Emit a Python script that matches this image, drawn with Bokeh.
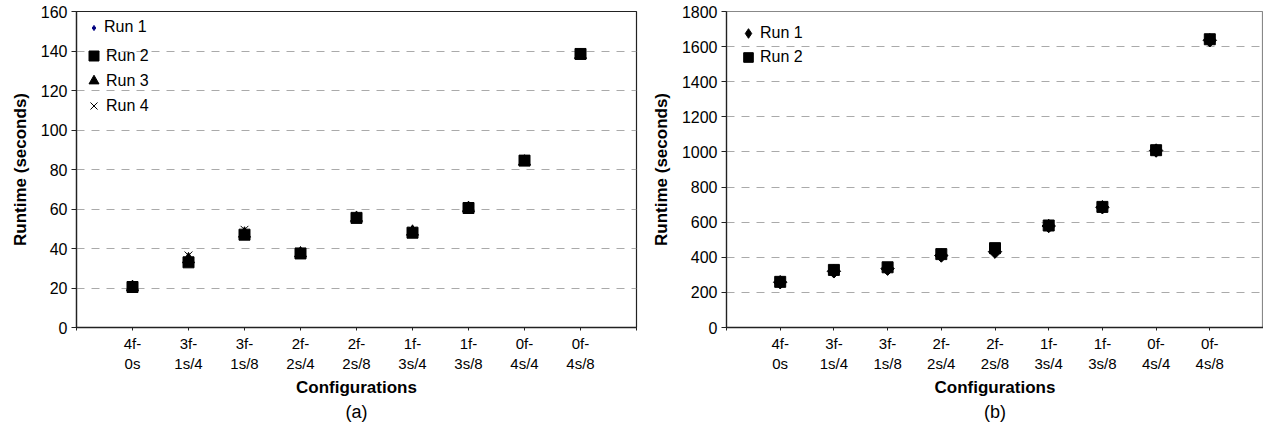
import math
from bokeh.plotting import figure
from bokeh.layouts import row
from bokeh.models import Range1d, FixedTicker, Legend, LegendItem, Title
from bokeh.embed import file_html
from bokeh.resources import INLINE

# ---- data ----
configs = ["4f-\n0s", "3f-\n1s/4", "3f-\n1s/8", "2f-\n2s/4", "2f-\n2s/8",
           "1f-\n3s/4", "1f-\n3s/8", "0f-\n4s/4", "0f-\n4s/8"]
xpos = [1, 2, 3, 4, 5, 6, 7, 8, 9]

a_run1 = [20.0, 33.0, 47.0, 37.0, 55.5, 48.0, 60.5, 84.5, 138.5]
a_run2 = [20.5, 33.0, 47.0, 37.5, 55.5, 48.0, 60.5, 84.5, 138.5]
a_run3 = [20.5, 34.5, 47.5, 37.5, 55.5, 48.5, 60.5, 84.0, 138.0]
a_run4 = [20.0, 36.5, 49.5, 38.0, 55.0, 49.0, 60.0, 84.0, 138.0]

b_run1 = [258, 320, 335, 410, 432, 578, 685, 1008, 1636]
b_run2 = [260, 328, 343, 418, 452, 581, 687, 1010, 1642]

a_yticks = [0, 20, 40, 60, 80, 100, 120, 140, 160]
b_yticks = [0, 200, 400, 600, 800, 1000, 1200, 1400, 1600, 1800]

FONT = "Liberation Sans"


def base(width, height, bl, br, bt, bb, ymax, yticks, outline):
    p = figure(width=width, height=height, output_backend="svg", toolbar_location=None,
               x_range=Range1d(0, 10), y_range=Range1d(0, ymax),
               min_border_left=bl, min_border_right=br, min_border_top=bt,
               min_border_bottom=bb)
    p.outline_line_color = outline
    p.outline_line_width = 1.2
    p.background_fill_color = "white"
    p.border_fill_color = "white"
    p.xgrid.grid_line_color = None
    p.ygrid.grid_line_color = "#aaaaaa"
    p.ygrid.grid_line_dash = "8 7"
    p.ygrid.grid_line_width = 1.2
    p.ygrid.ticker = FixedTicker(ticks=yticks)

    p.xaxis.ticker = FixedTicker(ticks=list(range(0, 11)))
    overrides = {0: "", 10: ""}
    for xp, c in zip(xpos, configs):
        overrides[xp] = c
    p.xaxis.major_label_overrides = overrides
    p.yaxis.ticker = FixedTicker(ticks=yticks)
    for ax in (p.xaxis[0], p.yaxis[0]):
        ax.axis_line_color = "#222222"
        ax.axis_line_width = 1.3
        ax.major_tick_line_color = "#222222"
        ax.minor_tick_line_color = None
        ax.major_tick_in = 0
        ax.major_label_text_font = FONT
        ax.major_label_text_color = "black"
        ax.axis_label_text_font = FONT
        ax.axis_label_text_font_style = "bold"
        ax.axis_label_text_color = "black"
        ax.axis_label_text_font_size = "17px"
    p.xaxis.major_tick_out = 3
    p.yaxis.major_tick_out = 5
    p.xaxis.major_label_text_font_size = "15px"
    p.yaxis.major_label_text_font_size = "16px"
    p.xaxis.major_label_standoff = 4
    p.yaxis.major_label_standoff = 4
    p.xaxis.axis_label = "Configurations"
    p.yaxis.axis_label = "Runtime (seconds)"
    p.xaxis.axis_label_standoff = 3
    p.yaxis.axis_label_standoff = 8
    return p


def add_caption(p, text):
    t = Title(text=text, align="center", text_font=FONT, text_font_size="18px",
              text_font_style="normal", text_color="black", standoff=0, offset=0)
    p.add_layout(t, "below")


def make_legend(items, loc, box, standoff):
    return Legend(items=items, location=loc, padding=0, margin=0, spacing=0,
                  glyph_width=box, glyph_height=box, label_height=box,
                  label_standoff=standoff, label_text_font=FONT,
                  label_text_font_size="16px", label_text_color="black",
                  background_fill_alpha=0, border_line_color=None)


# ---- left panel (a) ----
pa = base(640, 423, 76, 4, 10, 96, 160, a_yticks, "#222222")
ra1 = pa.scatter(xpos, a_run1, marker="diamond", size=6,
                 fill_color="#000080", line_color="#000080")
ra2 = pa.scatter(xpos, a_run2, marker="square", size=11, fill_color="black", line_color="black")
ra3 = pa.scatter(xpos, a_run3, marker="triangle", size=12, fill_color="black", line_color="black")
ra4 = pa.scatter(xpos, a_run4, marker="x", size=11, line_color="black", line_width=1)
pa.add_layout(make_legend([LegendItem(label="Run 1", renderers=[ra1])], (11, 291), 13, 4), "center")
pa.add_layout(make_legend([LegendItem(label="Run 2", renderers=[ra2]),
                           LegendItem(label="Run 3", renderers=[ra3]),
                           LegendItem(label="Run 4", renderers=[ra4])], (5, 209), 25, 0), "center")
add_caption(pa, "(a)")

# ---- right panel (b) ----
pb = base(623, 423, 86, 0, 11, 96, 1800, b_yticks, "#888888")
# legend key for Run 1 (diamond), drawn beneath the rotated-square markers of the same data
rb1_key = pb.scatter(xpos, b_run1, marker="diamond", size=12, fill_color="black", line_color="black")
rb1 = pb.scatter(xpos, b_run1, marker="square", angle=math.pi / 4, size=9.5,
                 fill_color="black", line_color="black")
rb2 = pb.scatter(xpos, b_run2, marker="square", size=11, fill_color="black", line_color="black")
pb.add_layout(make_legend([LegendItem(label="Run 1", renderers=[rb1_key]),
                           LegendItem(label="Run 2", renderers=[rb2])], (10, 258), 24, 0), "center")
add_caption(pb, "(b)")

layout = row(pa, pb, spacing=0)
open("out.html", "w").write(file_html(layout, INLINE))
